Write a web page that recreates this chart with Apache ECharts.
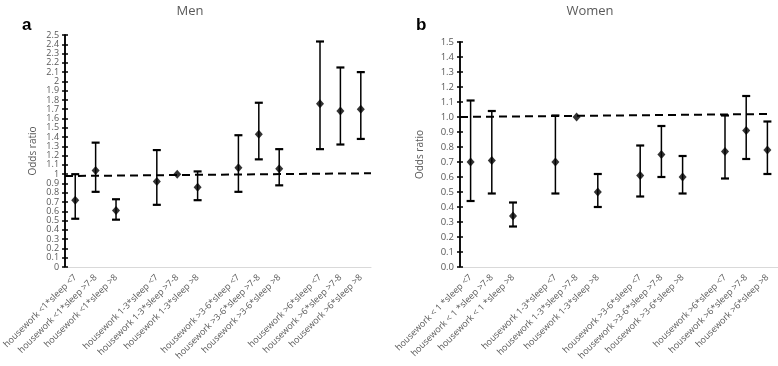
<!DOCTYPE html>
<html>
<head>
<meta charset="utf-8">
<script src="https://cdn.jsdelivr.net/npm/echarts@6/dist/echarts.min.js"></script>
<style>
  html, body { margin: 0; padding: 0; background: #fff; }
  #chart { width: 778px; height: 366px; }
</style>
</head>
<body>
<div id="chart"></div>
<script>
// categories (blank entries are the gaps between housework groups)
const menCats = [
  'housework <1*sleep <7', 'housework <1*sleep >7-8', 'housework <1*sleep >8', '',
  'housework 1-3*sleep <7', 'housework 1-3*sleep >7-8', 'housework 1-3*sleep >8', '',
  'housework >3-6*sleep <7', 'housework >3-6*sleep >7-8', 'housework >3-6*sleep >8', '',
  'housework >6*sleep <7', 'housework >6*sleep >7-8', 'housework >6*sleep >8'
]
const womenCats = [
  'housework < 1 *sleep <7', 'housework < 1 *sleep >7-8', 'housework < 1 *sleep >8', '',
  'housework 1-3*sleep <7', 'housework 1-3*sleep >7-8', 'housework 1-3*sleep >8', '',
  'housework >3-6*sleep <7', 'housework >3-6*sleep >7-8', 'housework >3-6*sleep >8', '',
  'housework >6*sleep <7', 'housework >6*sleep >7-8', 'housework >6*sleep >8'
]

// odds ratios and 95% CI
const menOR    = [0.72, 1.04, 0.61, null, 0.92, 1.00, 0.86, null, 1.07, 1.43, 1.06, null, 1.76, 1.68, 1.70]
const menLow   = [0.52, 0.81, 0.51, null, 0.67, null, 0.72, null, 0.81, 1.16, 0.88, null, 1.27, 1.32, 1.38]
const menHigh  = [1.00, 1.34, 0.73, null, 1.26, null, 1.03, null, 1.42, 1.77, 1.27, null, 2.43, 2.15, 2.10]
const menTrend = [[0, 0.98], [15, 1.01]]

const womenOR    = [0.70, 0.71, 0.34, null, 0.70, 1.00, 0.50, null, 0.61, 0.75, 0.60, null, 0.77, 0.91, 0.78]
const womenLow   = [0.44, 0.49, 0.27, null, 0.49, null, 0.40, null, 0.47, 0.60, 0.49, null, 0.59, 0.72, 0.62]
const womenHigh  = [1.11, 1.04, 0.43, null, 1.01, null, 0.62, null, 0.81, 0.94, 0.74, null, 1.01, 1.14, 0.97]
const womenTrend = [[0, 1.00], [14.5, 1.02]]

const font = 'Open Sans'
const grey = '#595959'

function errData(low, high) {
  const out = []
  low.forEach((v, i) => {
    if (v != null && high[i] != null) out.push([i, v, high[i]])
  })
  return out
}

function renderErr(params, api) {
  const i = api.value(0)
  const lo = api.coord([i, api.value(1)])
  const hi = api.coord([i, api.value(2)])
  const cap = 4
  const st = { stroke: '#000', lineWidth: 1.5 }
  const capSt = { stroke: '#000', lineWidth: 2.2 }
  return {
    type: 'group',
    children: [
      { type: 'line', shape: { x1: lo[0], y1: lo[1], x2: hi[0], y2: hi[1] }, style: st },
      { type: 'line', shape: { x1: hi[0] - cap, y1: hi[1], x2: hi[0] + cap, y2: hi[1] }, style: capSt },
      { type: 'line', shape: { x1: lo[0] - cap, y1: lo[1], x2: lo[0] + cap, y2: lo[1] }, style: capSt }
    ]
  }
}

function catAxis(grid, cats) {
  return {
    type: 'category',
    gridIndex: grid,
    data: cats,
    boundaryGap: true,
    axisLine: { lineStyle: { color: '#d9d9d9', width: 1 } },
    axisTick: { show: false },
    axisLabel: {
      interval: 0, rotate: 45, margin: 9,
      fontFamily: font, fontSize: 9, color: grey
    }
  }
}

function hiddenX(grid, max) {
  return { type: 'value', gridIndex: grid, min: 0, max: max, show: false }
}

// inside=true gives a second, label-less copy so the ticks cross the axis line
function yAxis(grid, max, fmt, inside) {
  return {
    type: 'value',
    gridIndex: grid,
    position: 'left',
    offset: 0,
    min: 0, max: max, interval: 0.1,
    name: inside ? '' : 'Odds ratio',
    nameLocation: 'middle',
    nameGap: grid === 0 ? 27 : 35,
    nameTextStyle: { fontFamily: font, fontSize: 10, color: grey },
    splitLine: { show: false },
    axisLine: { show: true, lineStyle: { color: '#000', width: 1.5 } },
    axisTick: { show: true, inside: inside, length: 3, lineStyle: { color: '#000', width: 1.5 } },
    axisLabel: inside ? { show: false } : {
      fontFamily: font, fontSize: grid === 0 ? 9 : 9.5, color: grey, margin: 6,
      formatter: fmt
    }
  }
}

const chart = echarts.init(document.getElementById('chart'))
chart.setOption({
  animation: false,
  title: [
    { text: 'Men', left: 185, top: 0, textAlign: 'center',
      textStyle: { fontFamily: font, fontSize: 13, fontWeight: 'normal', color: grey } },
    { text: 'Women', left: 585, top: 0, textAlign: 'center',
      textStyle: { fontFamily: font, fontSize: 13, fontWeight: 'normal', color: grey } },
    { text: 'a', left: 17, top: 12,
      textStyle: { fontFamily: 'Liberation Sans', fontSize: 17, fontWeight: 'bold', color: '#000' } },
    { text: 'b', left: 411, top: 12,
      textStyle: { fontFamily: 'Liberation Sans', fontSize: 17, fontWeight: 'bold', color: '#000' } }
  ],
  grid: [
    { left: 63, top: 35, width: 308, height: 232 },
    { left: 460, top: 42, width: 318, height: 225 }
  ],
  xAxis: [
    catAxis(0, menCats), catAxis(1, womenCats),
    hiddenX(0, 15), hiddenX(1, 15)
  ],
  yAxis: [
    yAxis(0, 2.5, v => String(Math.round(v * 10) / 10), false),
    yAxis(1, 1.5, v => v.toFixed(1), false),
    yAxis(0, 2.5, null, true),
    yAxis(1, 1.5, null, true)
  ],
  series: [
    { type: 'line', xAxisIndex: 2, yAxisIndex: 0, data: menTrend, symbol: 'none',
      lineStyle: { color: '#000', width: 2, type: [8, 5] }, z: 1 },
    { type: 'line', xAxisIndex: 3, yAxisIndex: 1, data: womenTrend, symbol: 'none',
      lineStyle: { color: '#000', width: 2, type: [8, 5] }, z: 1 },
    { type: 'custom', xAxisIndex: 0, yAxisIndex: 0, data: errData(menLow, menHigh),
      renderItem: renderErr, z: 2 },
    { type: 'custom', xAxisIndex: 1, yAxisIndex: 1, data: errData(womenLow, womenHigh),
      renderItem: renderErr, z: 2 },
    { type: 'scatter', xAxisIndex: 0, yAxisIndex: 0, data: menOR, symbol: 'diamond',
      symbolSize: [8, 9], itemStyle: { color: '#000' }, z: 3 },
    { type: 'scatter', xAxisIndex: 1, yAxisIndex: 1, data: womenOR, symbol: 'diamond',
      symbolSize: [8, 9], itemStyle: { color: '#000' }, z: 3 }
  ]
})
</script>
</body>
</html>
